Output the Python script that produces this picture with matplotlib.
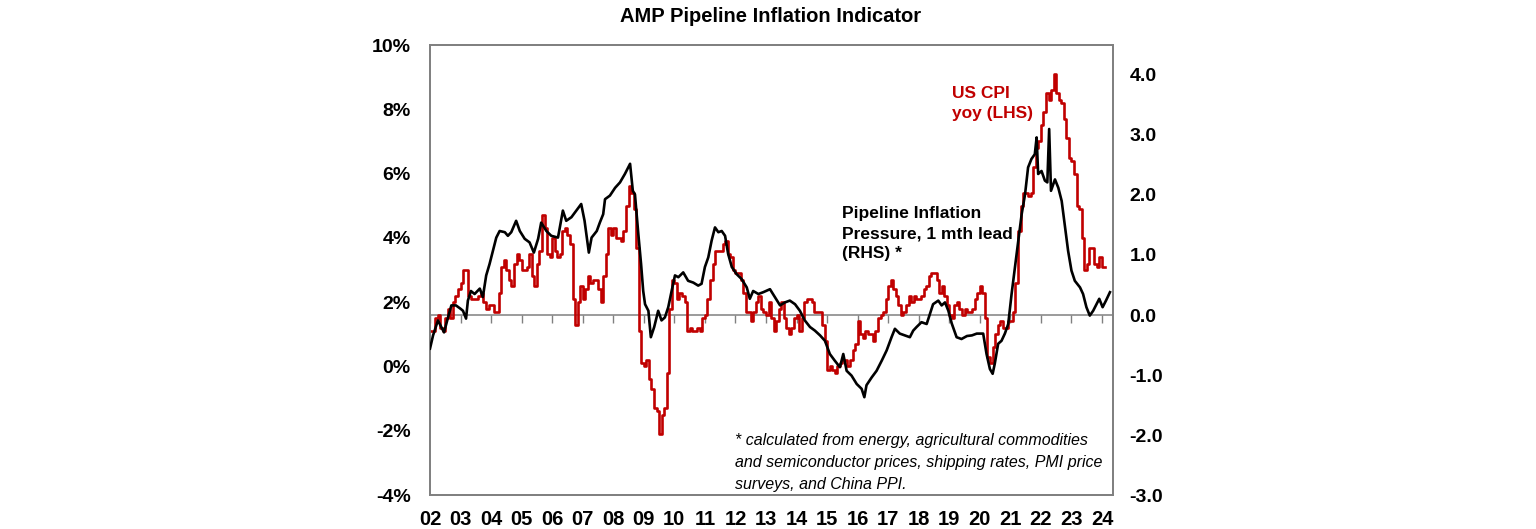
import numpy as np
import matplotlib
matplotlib.use("Agg")
import matplotlib.pyplot as plt

# ---------------- data ----------------
# US CPI yoy (%), monthly from Jan 2002 to Jan 2024 (LHS)
cpi_start_year = 2002
cpi_values = [
    1.1, 1.1, 1.5, 1.6, 1.2, 1.1, 1.5, 1.8, 1.5, 2.0, 2.2, 2.4,   # 2002
    2.6, 3.0, 3.0, 2.2, 2.1, 2.1, 2.1, 2.2, 2.3, 2.0, 1.8, 1.9,   # 2003
    1.9, 1.7, 1.7, 2.3, 3.1, 3.3, 3.0, 2.7, 2.5, 3.2, 3.5, 3.3,   # 2004
    3.0, 3.0, 3.1, 3.5, 2.8, 2.5, 3.2, 3.6, 4.7, 4.3, 3.5, 3.4,   # 2005
    4.0, 3.6, 3.4, 3.5, 4.2, 4.3, 4.1, 3.8, 2.1, 1.3, 2.0, 2.5,   # 2006
    2.1, 2.4, 2.8, 2.6, 2.7, 2.7, 2.4, 2.0, 2.8, 3.5, 4.3, 4.1,   # 2007
    4.3, 4.0, 4.0, 3.9, 4.2, 5.0, 5.6, 5.4, 4.9, 3.7, 1.1, 0.1,   # 2008
    0.0, 0.2, -0.4, -0.7, -1.3, -1.4, -2.1, -1.5, -1.3, -0.2, 1.8, 2.7,  # 2009
    2.6, 2.1, 2.3, 2.2, 2.0, 1.1, 1.2, 1.1, 1.1, 1.2, 1.1, 1.5,   # 2010
    1.6, 2.1, 2.7, 3.2, 3.6, 3.6, 3.6, 3.8, 3.9, 3.5, 3.4, 3.0,   # 2011
    2.9, 2.9, 2.7, 2.3, 1.7, 1.7, 1.4, 1.7, 2.0, 2.2, 1.8, 1.7,   # 2012
    1.6, 2.0, 1.5, 1.1, 1.4, 1.8, 2.0, 1.5, 1.2, 1.0, 1.2, 1.5,   # 2013
    1.6, 1.1, 1.5, 2.0, 2.1, 2.1, 2.0, 1.7, 1.7, 1.7, 1.3, 0.8,   # 2014
    -0.1, 0.0, -0.1, -0.2, 0.0, 0.1, 0.2, 0.2, 0.0, 0.2, 0.5, 0.7,  # 2015
    1.4, 1.0, 0.9, 1.1, 1.0, 1.0, 0.8, 1.1, 1.5, 1.6, 1.7, 2.1,   # 2016
    2.5, 2.7, 2.4, 2.2, 1.9, 1.6, 1.7, 1.9, 2.2, 2.0, 2.2, 2.1,   # 2017
    2.1, 2.2, 2.4, 2.5, 2.8, 2.9, 2.9, 2.7, 2.3, 2.5, 2.2, 1.9,   # 2018
    1.6, 1.5, 1.9, 2.0, 1.8, 1.6, 1.8, 1.7, 1.7, 1.8, 2.1, 2.3,   # 2019
    2.5, 2.3, 1.5, 0.3, 0.1, 0.6, 1.0, 1.3, 1.4, 1.2, 1.2, 1.4,   # 2020
    1.4, 1.7, 2.6, 4.2, 5.0, 5.4, 5.4, 5.3, 5.4, 6.2, 6.8, 7.0,   # 2021
    7.5, 7.9, 8.5, 8.3, 8.6, 9.1, 8.5, 8.3, 8.2, 7.7, 7.1, 6.5,   # 2022
    6.4, 6.0, 5.0, 4.9, 4.0, 3.0, 3.2, 3.7, 3.7, 3.2, 3.1, 3.4,   # 2023
    3.1,                                                          # 2024
]

# Pipeline Inflation Pressure, 1 mth lead (RHS) - dates as decimal years
pipeline_dates = [
    2002.00, 2002.10, 2002.26, 2002.46, 2002.59, 2002.70, 2002.85, 2003.01, 2003.08, 2003.18,
    2003.24, 2003.34, 2003.46, 2003.63, 2003.73, 2003.84, 2003.95, 2004.06, 2004.17, 2004.28,
    2004.45, 2004.55, 2004.66, 2004.82, 2004.94, 2005.10, 2005.26, 2005.40, 2005.54, 2005.64,
    2005.81, 2005.97, 2006.19, 2006.35, 2006.46, 2006.63, 2006.79, 2006.95, 2007.06, 2007.20,
    2007.29, 2007.46, 2007.56, 2007.67, 2007.73, 2007.89, 2008.06, 2008.22, 2008.38, 2008.55,
    2008.64, 2008.71, 2008.82, 2008.91, 2008.98, 2009.04, 2009.15, 2009.23, 2009.34, 2009.47,
    2009.58, 2009.69, 2009.80, 2009.91, 2010.02, 2010.13, 2010.29, 2010.45, 2010.62, 2010.78,
    2010.89, 2011.00, 2011.11, 2011.22, 2011.33, 2011.44, 2011.55, 2011.66, 2011.76, 2011.88,
    2012.04, 2012.20, 2012.37, 2012.47, 2012.58, 2012.75, 2012.91, 2013.13, 2013.29, 2013.46,
    2013.62, 2013.78, 2013.95, 2014.11, 2014.27, 2014.44, 2014.60, 2014.77, 2014.93, 2015.09,
    2015.25, 2015.42, 2015.53, 2015.64, 2015.80, 2015.97, 2016.13, 2016.22, 2016.29, 2016.46,
    2016.62, 2016.79, 2016.95, 2017.11, 2017.22, 2017.38, 2017.55, 2017.71, 2017.82, 2017.93,
    2018.09, 2018.26, 2018.37, 2018.47, 2018.64, 2018.75, 2018.86, 2018.97, 2019.08, 2019.24,
    2019.40, 2019.58, 2019.74, 2019.90, 2020.11, 2020.22, 2020.33, 2020.42, 2020.49, 2020.60,
    2020.71, 2020.82, 2020.93, 2021.04, 2021.15, 2021.26, 2021.37, 2021.48, 2021.58, 2021.69,
    2021.80, 2021.86, 2021.91, 2022.02, 2022.13, 2022.21, 2022.27, 2022.33, 2022.46, 2022.57,
    2022.68, 2022.79, 2022.89, 2023.00, 2023.11, 2023.28, 2023.38, 2023.49, 2023.60, 2023.71,
    2023.82, 2023.91, 2024.02, 2024.13, 2024.26,
]
pipeline_values = [
    -0.56, -0.34, -0.09, -0.29, -0.04, 0.16, 0.16, 0.10, 0.07, -0.06,
    0.24, 0.40, 0.35, 0.44, 0.30, 0.66, 0.85, 1.07, 1.29, 1.40,
    1.38, 1.32, 1.38, 1.57, 1.40, 1.27, 1.21, 1.04, 1.27, 1.54,
    1.40, 1.32, 1.29, 1.74, 1.57, 1.63, 1.74, 1.85, 1.57, 1.04,
    1.29, 1.40, 1.54, 1.68, 1.93, 1.99, 2.12, 2.21, 2.35, 2.52,
    2.07, 2.01, 1.35, 0.85, 0.40, 0.18, 0.07, -0.37, -0.20, 0.07,
    -0.09, -0.04, 0.13, 0.40, 0.66, 0.63, 0.71, 0.57, 0.54, 0.49,
    0.52, 0.80, 0.96, 1.24, 1.46, 1.38, 1.40, 1.32, 1.02, 0.80,
    0.68, 0.60, 0.46, 0.27, 0.40, 0.35, 0.38, 0.43, 0.30, 0.16,
    0.21, 0.24, 0.18, 0.07, -0.09, -0.20, -0.26, -0.34, -0.43, -0.65,
    -0.76, -0.87, -0.65, -0.93, -1.01, -1.15, -1.23, -1.37, -1.17, -1.04,
    -0.93, -0.76, -0.59, -0.37, -0.23, -0.31, -0.34, -0.37, -0.26, -0.20,
    -0.12, -0.15, 0.02, 0.18, 0.24, 0.16, 0.21, 0.07, -0.14, -0.37,
    -0.40, -0.35, -0.34, -0.31, -0.31, -0.65, -0.90, -0.98, -0.81, -0.48,
    -0.43, -0.31, -0.15, 0.35, 0.80, 1.24, 1.68, 2.01, 2.46, 2.60,
    2.68, 2.96, 2.35, 2.40, 2.24, 2.21, 3.10, 2.07, 2.26, 2.12,
    1.90, 1.46, 1.07, 0.74, 0.57, 0.46, 0.35, 0.13, -0.01, 0.07,
    0.18, 0.27, 0.13, 0.24, 0.38,
]

year_ticks = list(range(2002, 2025))
year_labels = [f"{y % 100:02d}" for y in year_ticks]
lhs_ticks = [-4, -2, 0, 2, 4, 6, 8, 10]
lhs_labels = [f"{v}%" for v in lhs_ticks]
rhs_ticks = [-3, -2, -1, 0, 1, 2, 3, 4]
rhs_labels = [f"{v:.1f}" for v in rhs_ticks]

title = "AMP Pipeline Inflation Indicator"
cpi_label = "US CPI\nyoy (LHS)"
pipe_label = "Pipeline Inflation\nPressure, 1 mth lead\n(RHS) *"
footnote = ("* calculated from energy, agricultural commodities\n"
            "and semiconductor prices, shipping rates, PMI price\n"
            "surveys, and China PPI.")

# ---------------- style ----------------
plt.rcParams["font.family"] = ["Liberation Sans", "DejaVu Sans"]
RED = "#C00000"
GREY = "#808080"
W, H = 1536, 529

fig = plt.figure(figsize=(W / 100, H / 100), dpi=100)
ax = fig.add_axes([430 / W, (H - 495) / H, (1113 - 430) / W, (495 - 45) / H])

cpi_x = cpi_start_year + np.arange(len(cpi_values)) / 12.0
cpi_x_ext = np.append(cpi_x, cpi_x[-1] + 1 / 12.0)
cpi_y_ext = np.append(cpi_values, cpi_values[-1])
ax.plot(cpi_x_ext, cpi_y_ext, drawstyle="steps-post", color=RED, lw=1.9, zorder=3)

ax2 = ax.twinx()
ax2.plot(pipeline_dates, pipeline_values, color="black", lw=1.9, zorder=4)

ax.set_xlim(2002, 2024.36)
ax.set_ylim(-4, 10)
ax2.set_ylim(-3, 4.5)

ax.set_xticks(year_ticks)
ax.set_xticklabels(year_labels, fontsize=14.5, fontweight="bold")
ax.set_yticks(lhs_ticks)
ax.set_yticklabels(lhs_labels, fontsize=14, fontweight="bold")
ax2.set_yticks(rhs_ticks)
ax2.set_yticklabels(rhs_labels, fontsize=14, fontweight="bold")

ax.tick_params(axis="x", length=0, pad=11)
ax.tick_params(axis="y", length=0, pad=14)
ax2.tick_params(axis="y", length=0, pad=12)

for a in (ax, ax2):
    for s in a.spines.values():
        s.set_color(GREY)
        s.set_linewidth(1.3)

# zero line of RHS with year tick marks
sec = ax.secondary_xaxis(3.0 / 7.5)
sec.set_xticks(year_ticks)
sec.set_xticklabels([])
sec.tick_params(direction="out", length=6, width=1, color=GREY)
for s in sec.spines.values():
    s.set_color(GREY)
    s.set_linewidth(1.1)

fig.text(771 / W, 1 - 16 / H, title, ha="center", va="center",
         fontsize=14.5, fontweight="bold")
fig.text(952 / W, 1 - 86 / H, cpi_label, ha="left", va="top",
         fontsize=12.5, fontweight="bold", color=RED, linespacing=1.42)
fig.text(842 / W, 1 - 206 / H, pipe_label, ha="left", va="top",
         fontsize=12.5, fontweight="bold", color="black", linespacing=1.42)
fig.text(735 / W, 1 - 433 / H, footnote, ha="left", va="top",
         fontsize=11.5, fontstyle="italic", color="black", linespacing=1.58)

fig.savefig("out.png", dpi=100)
